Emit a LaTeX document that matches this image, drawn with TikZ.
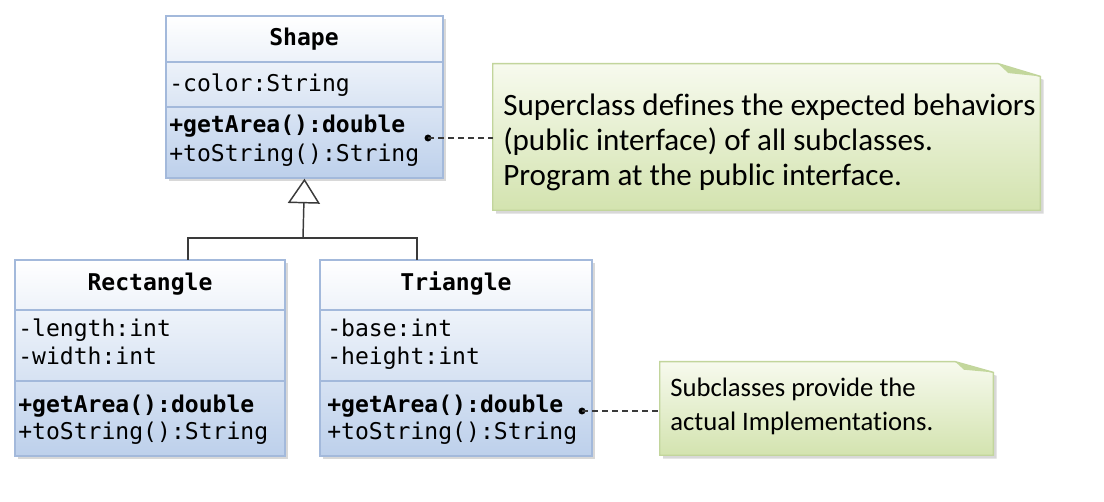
\documentclass[tikz,border=0pt]{standalone}
\usepackage{fontspec}
\setmainfont{Carlito}[Ligatures=NoCommon]
\setmonofont{DejaVu Sans Mono}
\usetikzlibrary{positioning, arrows.meta, shadows, backgrounds, fit}

\definecolor{clsline}{HTML}{A3B9DB}
\definecolor{clsblue}{HTML}{BDD0EB}
\definecolor{noteline}{HTML}{C2D59C}
\definecolor{notetop}{HTML}{F7FAEE}
\definecolor{notebot}{HTML}{D3E3AF}
\definecolor{notefold}{HTML}{C3D79C}
\definecolor{linkgray}{HTML}{3A3A3A}

\tikzset{
  class/.style={draw=clsline, line width=1.1pt, top color=white, bottom color=clsblue,
    drop shadow={shadow xshift=2.5pt, shadow yshift=-2.5pt, opacity=0.3},
    inner sep=0pt},
  divider/.style={draw=clsline, line width=1.1pt},
  cname/.style={anchor=base, inner sep=0pt, font=\fontsize{17.3}{21}\selectfont\ttfamily\bfseries},
  member/.style={anchor=base west, inner sep=0pt, font=\fontsize{17.3}{21}\selectfont\ttfamily},
  notebox/.style={inner sep=0pt},
  notebody/.style={draw=noteline, line width=1.1pt, top color=notetop, bottom color=notebot,
    drop shadow={shadow xshift=2.5pt, shadow yshift=-2.5pt, opacity=0.3}},
  link/.style={draw=linkgray, line width=1.1pt},
  anchorline/.style={draw=linkgray, line width=1pt, dash pattern=on 4.5pt off 3pt},
}

\begin{document}
\begin{tikzpicture}[x=0.75pt, y=-0.75pt]
\useasboundingbox (0,0) rectangle (1104,502);
\fill[white] (0,0) rectangle (1104,502);

% superclass
\node[class, fit={(166,16) (443,178)}] (shape) {};
\draw[divider] (166,62) -- (443,62);
\draw[divider] (166,107) -- (443,107);
\node[cname] (shape-name) at (304,46) {Shape};
\node[member] (shape-color) at (169,92) {-color:String};
\node[member] (shape-area) at (169,133) {\textbf{+getArea():double}};
\node[member] (shape-str) at (169,162) {+toString():String};

% subclasses
\node[class, fit={(15,260) (285,456)}] (rect) {};
\draw[divider] (15,310) -- (285,310);
\draw[divider] (15,381) -- (285,381);
\node[cname] (rect-name) at (150,291) {Rectangle};
\node[member] (rect-len) at (18,337) {-length:int};
\node[member] (rect-wid) at (18,365) {-width:int};
\node[member] (rect-area) at (18,412) {\textbf{+getArea():double}};
\node[member] (rect-str) at (18,440) {+toString():String};

\node[class, fit={(320,260) (592,456)}] (tri) {};
\draw[divider] (320,310) -- (592,310);
\draw[divider] (320,381) -- (592,381);
\node[cname] (tri-name) at (456,291) {Triangle};
\node[member] (tri-base) at (327,337) {-base:int};
\node[member] (tri-hgt) at (327,365) {-height:int};
\node[member] (tri-area) at (327,412) {\textbf{+getArea():double}};
\node[member] (tri-str) at (327,440) {+toString():String};

% generalization
\coordinate (fork) at (303,238);
\coordinate (rect-top) at (188,260);
\coordinate (tri-top) at (417,260);
\draw[link, -{Triangle[open, length=18.5pt, width=24pt, line width=1.1pt]}] (fork) -- (shape.south);
\draw[link] (rect-top) |- (fork) -| (tri-top);

% notes
\node[notebox, fit={(493,64) (1040,210)}] (super-note) {};
\path[notebody] (super-note.north west) -- ([xshift=-31.5pt]super-note.north east)
  -- ([yshift=-9.5pt]super-note.north east) -- (super-note.south east)
  -- (super-note.south west) -- cycle;
\fill[notefold] ([xshift=-31.5pt]super-note.north east) -- ([yshift=-9.5pt]super-note.north east)
  -- ([xshift=-24pt, yshift=-7pt]super-note.north east) -- cycle;
\node[anchor=west, inner sep=0pt, align=left, font=\fontsize{23.3}{26.25}\selectfont] (super-text) at (503,142)
  {Superclass defines the expected behaviors\\(public interface) of all subclasses.\\Program at the public interface.};

\node[notebox, fit={(660,362) (993,455)}] (sub-note) {};
\path[notebody] (sub-note.north west) -- ([xshift=-28.5pt]sub-note.north east)
  -- ([yshift=-8pt]sub-note.north east) -- (sub-note.south east)
  -- (sub-note.south west) -- cycle;
\fill[notefold] ([xshift=-28.5pt]sub-note.north east) -- ([yshift=-8pt]sub-note.north east)
  -- ([xshift=-22pt, yshift=-6pt]sub-note.north east) -- cycle;
\node[anchor=west, inner sep=0pt, align=left, font=\fontsize{20}{25.5}\selectfont] (sub-text) at (670,406)
  {Subclasses provide the\\actual Implementations.};

% note anchors
\coordinate (shape-dot) at (428,138);
\coordinate (tri-dot) at (582,411);
\fill[black] (shape-dot) circle (2.6pt);
\fill[black] (tri-dot) circle (2.6pt);
\draw[anchorline] (shape-dot) -- (shape-dot -| super-note.west);
\draw[anchorline] (tri-dot) -- (tri-dot -| sub-note.west);
\end{tikzpicture}
\end{document}
